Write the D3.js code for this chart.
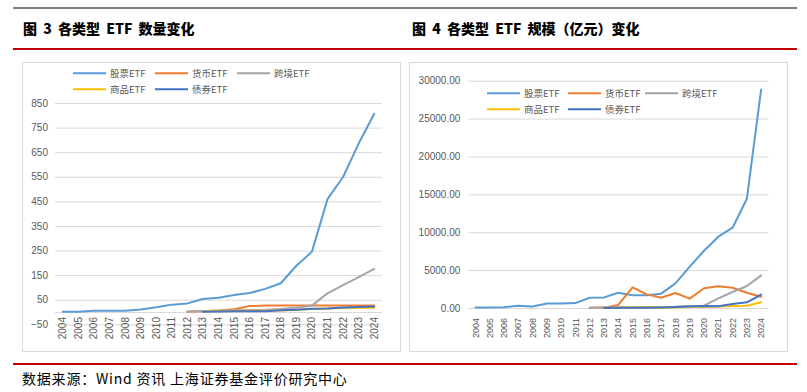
<!DOCTYPE html>
<html><head><meta charset="utf-8">
<script src="https://cdn.jsdelivr.net/npm/d3@7"></script>
<style>
body{margin:0;background:#fff;}
svg{display:block;}
</style></head>
<body>
<svg id="c" width="807" height="392"></svg>
<script>
// ---------- DATA ----------
const years = ["2004","2005","2006","2007","2008","2009","2010","2011","2012","2013","2014","2015","2016","2017","2018","2019","2020","2021","2022","2023","2024"];
const seriesNames = ["股票ETF","货币ETF","跨境ETF","商品ETF","债券ETF"];
const seriesColors = ["#5b9bd5","#ed7d31","#a5a5a5","#ffc000","#4472c4"];

// Fig 3: number of ETFs
const equityCount    = [1,1,5,5,5,10,19,30,35,53,58,69,77,94,117,188,245,459,549,685,806];
const moneyCount     = [null,null,null,null,null,null,null,null,1,3,6,11,24,26,26,26,26,26,26,26,26];
const crossCount     = [null,null,null,null,null,null,null,null,2,4,5,7,8,9,12,17,26,76,109,142,175];
const commodityCount = [null,null,null,null,null,null,null,null,null,2,4,5,5,5,6,8,12,14,16,17,17];
const bondCount      = [null,null,null,null,null,null,null,null,null,1,2,3,3,3,7,9,13,14,18,20,22];
const countTicks = [-50,50,150,250,350,450,550,650,750,850];

// Fig 4: AUM (亿元)
const equityAUM    = [50,50,100,300,200,600,600,650,1360,1400,2020,1670,1670,1890,3250,5450,7560,9410,10600,14420,28850];
const moneyAUM     = [null,null,null,null,null,null,null,null,20,50,400,2730,1800,1360,1980,1230,2600,2860,2680,2020,1490];
const crossAUM     = [null,null,null,null,null,null,null,null,20,60,80,100,120,120,150,250,310,1270,2110,2900,4310];
const commodityAUM = [null,null,null,null,null,null,null,null,null,20,30,60,70,70,80,150,150,200,250,300,750];
const bondAUM      = [null,null,null,null,null,null,null,null,null,10,20,30,40,60,120,200,250,220,530,750,1760];
const aumTicks = [0,5000,10000,15000,20000,25000,30000];

const title3 = "图 3 各类型 ETF 数量变化";
const title4 = "图 4 各类型 ETF 规模（亿元）变化";
const sourceText = "数据来源：Wind 资讯 上海证券基金评价研究中心";

// ---------- DRAW ----------
const svg = d3.select("#c");
const numFont = "'Liberation Sans', Arial, sans-serif";
const cjkFont = "'Noto Sans CJK SC', sans-serif";
const txtCol = "#595959";
const gridCol = "#d9d9d9";

// header / footer rules
svg.append("line").attr("x1",13).attr("x2",797).attr("y1",8).attr("y2",8).attr("stroke","#7f7f7f").attr("stroke-width",2);
svg.append("line").attr("x1",13).attr("x2",797).attr("y1",49).attr("y2",49).attr("stroke","#c00000").attr("stroke-width",2);
svg.append("line").attr("x1",13).attr("x2",797).attr("y1",364).attr("y2",364).attr("stroke","#c00000").attr("stroke-width",2);

svg.append("text").attr("x",23).attr("y",34).text(title3)
  .attr("font-family",cjkFont).attr("font-weight","900").attr("font-size",14).attr("word-spacing",3).attr("fill","#000");
svg.append("text").attr("x",412).attr("y",34).text(title4)
  .attr("font-family",cjkFont).attr("font-weight","900").attr("font-size",14).attr("word-spacing",3).attr("fill","#000");
svg.append("text").attr("x",22).attr("y",384).text(sourceText)
  .attr("font-family",cjkFont).attr("font-size",14).attr("letter-spacing",0.8).attr("fill","#000");

function drawChart(cfg){
  const g = svg.append("g");
  // panel
  g.append("rect").attr("x",cfg.box[0]+0.5).attr("y",cfg.box[1]+0.5)
    .attr("width",cfg.box[2]-cfg.box[0]).attr("height",cfg.box[3]-cfg.box[1])
    .attr("fill","#fff").attr("stroke",gridCol).attr("stroke-width",1);

  const x = d3.scaleBand().domain(years).range(cfg.xr);
  const y = d3.scaleLinear().domain(cfg.yd).range(cfg.yr);
  const cx = d => x(d) + x.bandwidth()/2;

  // gridlines + y labels
  const yAxis = d3.axisLeft(y).tickValues(cfg.ticks).tickSize(-(cfg.xr[1]-cfg.xr[0])).tickPadding(cfg.tickPad).tickFormat(cfg.fmt);
  const ya = g.append("g").attr("transform",`translate(${cfg.xr[0]},0)`).call(yAxis);
  ya.select(".domain").remove();
  ya.selectAll(".tick line").attr("stroke",gridCol);
  ya.selectAll(".tick text").attr("font-family",numFont).attr("font-size",10).attr("fill",txtCol);

  // zero axis line
  g.append("line").attr("x1",cfg.xr[0]).attr("x2",cfg.xr[1]).attr("y1",Math.round(y(0))+0.5).attr("y2",Math.round(y(0))+0.5).attr("stroke",gridCol);

  // x labels
  const xAxis = d3.axisBottom(x).tickSize(0).tickPadding(0);
  const xa = g.append("g").attr("transform",`translate(0,${y(0)})`).call(xAxis);
  xa.select(".domain").remove();
  xa.selectAll(".tick text")
    .attr("font-family",numFont).attr("font-size",cfg.xFont).attr("fill",txtCol)
    .attr("text-anchor","end").attr("dy","0.35em").attr("dx",0)
    .attr("transform",`translate(0,${cfg.xLabOff}) rotate(-90)`)
    .attr("x",0).attr("y",0);

  // lines
  const line = d3.line().defined(d => d.v != null).x(d => cx(d.yr)).y(d => y(d.v));
  cfg.series.forEach((s,i) => {
    const pts = years.map((yr,j) => ({yr, v: s[j]}));
    g.append("path").datum(pts).attr("d",line).attr("fill","none")
      .attr("stroke",seriesColors[i]).attr("stroke-width",2).attr("stroke-linejoin","round").attr("stroke-linecap","round");
  });

  // legend
  seriesNames.forEach((n,i) => {
    const p = cfg.legend[i];
    g.append("line").attr("x1",p[0]).attr("x2",p[0]+33).attr("y1",p[1]).attr("y2",p[1])
      .attr("stroke",seriesColors[i]).attr("stroke-width",2);
    g.append("text").attr("x",p[0]+37).attr("y",p[1]).attr("dy","0.35em").text(n)
      .attr("font-family",cjkFont).attr("font-size",9.5).attr("fill",txtCol);
  });
}

drawChart({
  box:[22,62,400,351],
  xr:[55,382], yd:[-50,850], yr:[324.3,103],
  ticks: countTicks, fmt: d3.format("d"), tickPad: 7,
  xFont: 10, xLabOff: 5,
  series:[equityCount,moneyCount,crossCount,commodityCount,bondCount],
  legend:[[73,73.3],[155,73.3],[237,73.3],[73,89.3],[155,89.3]]
});
drawChart({
  box:[409,62,787,351],
  xr:[468.3,768.3], yd:[0,30000], yr:[308,80.7],
  ticks: aumTicks, fmt: d3.format(".2f"), tickPad: 8,
  xFont: 9, xLabOff: 10,
  series:[equityAUM,moneyAUM,crossAUM,commodityAUM,bondAUM],
  legend:[[487,93.3],[568,93.3],[645,93.3],[487,109.3],[568,109.3]]
});
</script>
</body></html>
